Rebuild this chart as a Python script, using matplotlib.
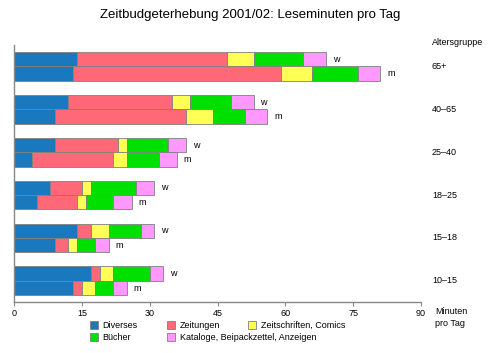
import matplotlib
matplotlib.use("Agg")
import matplotlib.pyplot as plt
from matplotlib.patches import Patch

plt.rcParams['font.family'] = ['Liberation Sans', 'DejaVu Sans']

groups = ['10–15', '15–18', '18–25', '25–40', '40–65', '65+']
categories = ['Diverses', 'Zeitungen', 'Zeitschriften, Comics', 'Bücher',
              'Kataloge, Beipackzettel, Anzeigen']
colors = ['#1a78bf', '#ff6877', '#ffff55', '#00e000', '#ff99ff']

# minutes per day, per category, bottom group first
w_vals = [
    [17, 2, 3, 8, 3],
    [14, 3, 4, 7, 3],
    [8, 7, 2, 10, 4],
    [9, 14, 2, 9, 4],
    [12, 23, 4, 9, 5],
    [14, 33, 6, 11, 5],
]
m_vals = [
    [13, 2, 3, 4, 3],
    [9, 3, 2, 4, 3],
    [5, 9, 2, 6, 4],
    [4, 18, 3, 7, 4],
    [9, 29, 6, 7, 5],
    [13, 46, 7, 10, 5],
]
xticks = [0, 15, 30, 45, 60, 75, 90]

fig = plt.figure(figsize=(5, 3.53), dpi=100)
ax = fig.add_axes([0.028, 0.1436, 0.814, 0.729])

h = 0.335
for i, g in enumerate(groups):
    for vals, yy, lab in [(w_vals[i], i + h / 2, 'w'), (m_vals[i], i - h / 2, 'm')]:
        left = 0
        for v, c in zip(vals, colors):
            ax.barh(yy, v, height=h, left=left, color=c, edgecolor='#808080', linewidth=0.6)
            left += v
        ax.text(left + 1.5, yy, lab, fontsize=6.5, va='center', ha='left')
    ax.text(92.4, i, g, fontsize=6.5, va='center', ha='left', clip_on=False)

ax.text(92.4, 5.55, 'Altersgruppe', fontsize=6.5, va='center', ha='left', clip_on=False)
ax.text(93.1, -0.02, 'Minuten\npro Tag', fontsize=6.5, va='top', ha='left',
        transform=ax.get_xaxis_transform(), linespacing=1.3)

ax.set_xlim(0, 90)
ax.set_ylim(-0.5, 5.5)
ax.set_xticks(xticks)
ax.set_yticks([])
for s in ['top', 'right']:
    ax.spines[s].set_visible(False)
for s in ['left', 'bottom']:
    ax.spines[s].set_color('#888888')
    ax.spines[s].set_linewidth(1.0)
ax.tick_params(axis='x', length=3, color='#888888', labelsize=6.5, pad=1.5)

fig.suptitle('Zeitbudgeterhebung 2001/02: Leseminuten pro Tag', fontsize=9.5, y=0.975)

# legend entries placed one by one (x pixel of the swatch, row)
leg_pos = [(90, 0), (167, 0), (248, 0), (90, 1), (167, 1)]
for k, (px, row) in enumerate(leg_pos):
    hnd = Patch(facecolor=colors[k], edgecolor='#808080', linewidth=0.6)
    leg = fig.legend([hnd], [categories[k]], loc='center left',
                     bbox_to_anchor=(px / 500, (353 - 325.5 - row * 12.3) / 353),
                     frameon=False, fontsize=6.5, handlelength=0.9, handleheight=0.9,
                     handletextpad=0.5, borderpad=0, borderaxespad=0)

fig.savefig('out.png', dpi=100)
